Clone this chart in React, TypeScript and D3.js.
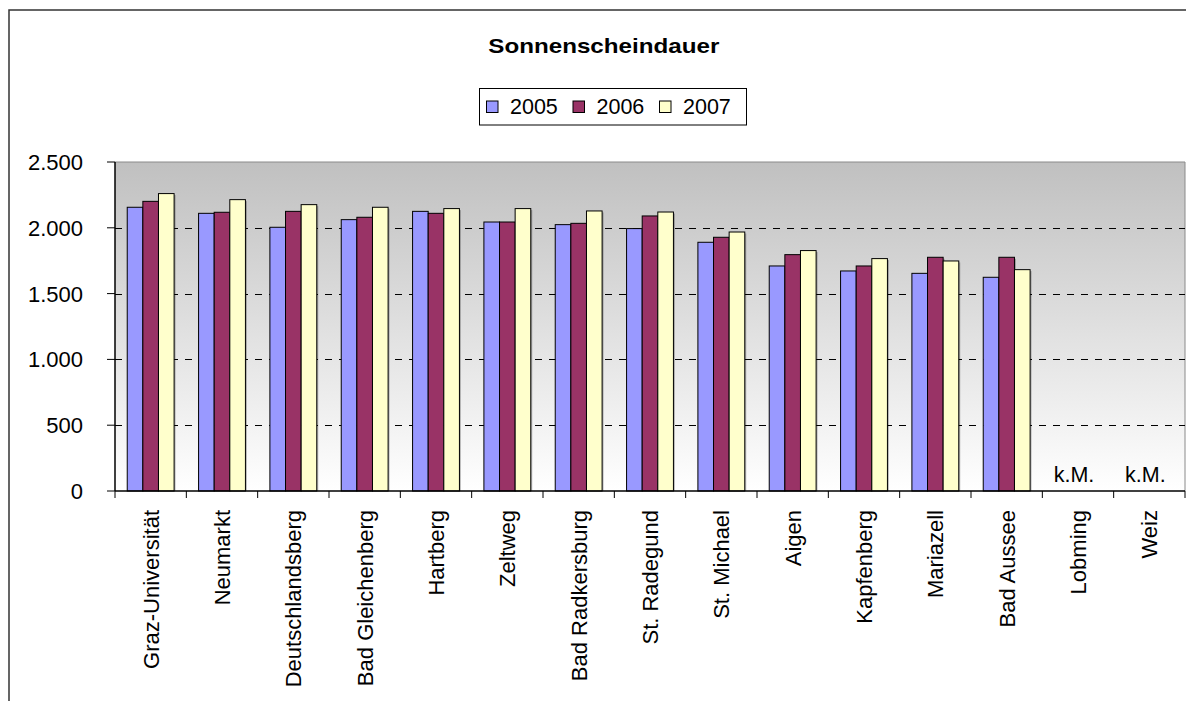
import React from "react";
import * as d3 from "d3";

const categories = [
  "Graz-Universität", "Neumarkt", "Deutschlandsberg", "Bad Gleichenberg", "Hartberg",
  "Zeltweg", "Bad Radkersburg", "St. Radegund", "St. Michael", "Aigen",
  "Kapfenberg", "Mariazell", "Bad Aussee", "Lobming", "Weiz",
];
const seriesNames = ["2005", "2006", "2007"];
const values2005 = [2156, 2110, 2004, 2062, 2125, 2044, 2024, 1994, 1890, 1710, 1672, 1654, 1624, null, null];
const values2006 = [2201, 2118, 2125, 2080, 2110, 2044, 2034, 2090, 1928, 1796, 1710, 1776, 1776, null, null];
const values2007 = [2260, 2214, 2176, 2156, 2146, 2146, 2128, 2120, 1968, 1827, 1766, 1748, 1682, null, null];
const seriesColors = ["#9999FF", "#993366", "#FFFFCC"];
const yTicks = [0, 500, 1000, 1500, 2000, 2500];
const missingLabel = "k.M.";
const title = "Sonnenscheindauer";

const W = 1186;
const H = 701;
const plot = { left: 115, right: 1185, top: 162, bottom: 491 };
const FONT = "Arial, 'Liberation Sans', Helvetica, sans-serif";

export default function App() {
  const series = [values2005, values2006, values2007];
  const x = d3.scaleBand<string>().domain(categories).range([plot.left, plot.right]).padding(0);
  const y = d3.scaleLinear().domain([0, 2500]).range([plot.bottom, plot.top]);
  const bw = x.bandwidth();
  const barW = bw * 0.219;
  const groupOff = (bw - 3 * barW) / 2;
  const fmt = (v: number) => d3.format(",")(v).replace(/,/g, ".");

  return (
    <svg width={W} height={H} style={{ position: "absolute", left: 0, top: 0, background: "#fff" }}>
      <defs>
        <linearGradient id="bg" x1="0" y1="0" x2="0" y2="1">
          <stop offset="0%" stopColor="#C0C0C0" />
          <stop offset="100%" stopColor="#FFFFFF" />
        </linearGradient>
      </defs>
      {/* outer frame */}
      <rect x={9} y={10} width={W + 20} height={H + 20} fill="#fff" stroke="#333" strokeWidth={1.5} />

      {/* title */}
      <text x={603.8} y={52.7} textAnchor="middle" fontFamily={FONT} fontWeight="bold" fontSize={20.5}
        textLength={231} lengthAdjust="spacingAndGlyphs">{title}</text>

      {/* legend */}
      <rect x={479.5} y={88.5} width={267} height={36.5} fill="#fff" stroke="#000" strokeWidth={1} />
      {seriesNames.map((s, i) => (
        <g key={s} transform={`translate(${486.5 + i * 86.5},0)`}>
          <rect x={0} y={101} width={11.5} height={11.5} fill={seriesColors[i]} stroke="#000" strokeWidth={1} />
          <text x={23.5} y={113.7} fontFamily={FONT} fontSize={21.5}>{s}</text>
        </g>
      ))}

      {/* plot background */}
      <rect x={plot.left} y={plot.top} width={plot.right - plot.left} height={plot.bottom - plot.top} fill="url(#bg)" />
      <line x1={plot.left} x2={plot.right} y1={plot.top} y2={plot.top} stroke="#8a8a8a" strokeWidth={1} />
      <line x1={plot.right} x2={plot.right} y1={plot.top} y2={plot.bottom} stroke="#8a8a8a" strokeWidth={1} />

      {/* gridlines */}
      {yTicks.filter((t) => t > 0 && t < 2500).map((t) => (
        <line key={t} x1={plot.left} x2={plot.right} y1={Math.round(y(t)) + 0.5} y2={Math.round(y(t)) + 0.5}
          stroke="#000" strokeWidth={1} strokeDasharray="7,7" />
      ))}

      {/* bars */}
      {categories.map((c, ci) => (
        <g key={c}>
          {series.map((vals, si) => {
            const v = vals[ci];
            if (v == null) return null;
            const bx = (x(c) as number) + groupOff + si * barW;
            return (
              <g key={si}>
                <rect x={bx + 1.5} y={y(v) + 1.5} width={barW} height={plot.bottom - y(v) - 1.5} fill="#00000040" />
                <rect x={bx} y={y(v)} width={barW} height={plot.bottom - y(v)} fill={seriesColors[si]} stroke="#000" strokeWidth={1} />
              </g>
            );
          })}
          {series.every((vals) => vals[ci] == null) && (
            <text x={(x(c) as number) + bw / 2 - 4} y={482} textAnchor="middle" fontFamily={FONT} fontSize={21.5}>{missingLabel}</text>
          )}
        </g>
      ))}

      {/* y axis */}
      <line x1={plot.left} x2={plot.left} y1={plot.top} y2={plot.bottom} stroke="#000" strokeWidth={1.5} />
      {yTicks.map((t) => (
        <g key={t}>
          <line x1={107} x2={plot.left} y1={y(t)} y2={y(t)} stroke="#000" strokeWidth={1} />
          <text x={83} y={y(t)} dy="0.36em" textAnchor="end" fontFamily={FONT} fontSize={22}>{fmt(t)}</text>
        </g>
      ))}

      {/* x axis */}
      <line x1={plot.left} x2={plot.right} y1={plot.bottom} y2={plot.bottom} stroke="#000" strokeWidth={1.5} />
      {categories.map((c, i) => (
        <line key={"t" + i} x1={(x(c) as number)} x2={(x(c) as number)} y1={plot.bottom} y2={plot.bottom + 7} stroke="#000" strokeWidth={1} />
      ))}
      <line x1={plot.right} x2={plot.right} y1={plot.bottom} y2={plot.bottom + 7} stroke="#000" strokeWidth={1} />
      {categories.map((c) => {
        const cx = (x(c) as number) + bw / 2;
        return (
          <text key={"l" + c} transform={`translate(${cx},510) rotate(-90)`} dy="0.36em" textAnchor="end"
            fontFamily={FONT} fontSize={22}>{c}</text>
        );
      })}
    </svg>
  );
}
